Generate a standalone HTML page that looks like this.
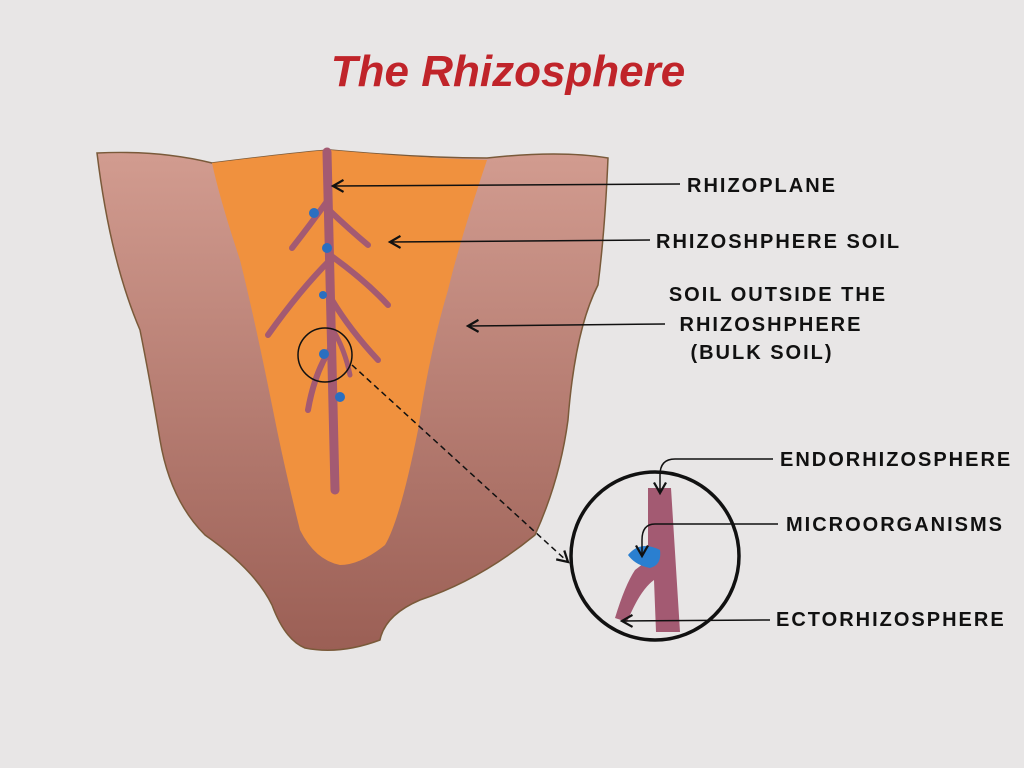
<!DOCTYPE html>
<html><head><style>
body{margin:0;background:#e8e6e6;}
svg{display:block}
.l{font-family:"Liberation Sans",sans-serif;font-weight:bold;font-size:20px;fill:#111;letter-spacing:2px}
</style></head><body>
<svg width="1024" height="768" viewBox="0 0 1024 768">
<defs>
<linearGradient id="g" x1="0" y1="0" x2="0" y2="1"><stop offset="0" stop-color="#d29c90"/><stop offset="1" stop-color="#9b5f55"/></linearGradient>
<marker id="a" markerWidth="10" markerHeight="10" refX="8" refY="5" orient="auto"><path d="M1,1 L8,5 L1,9" fill="none" stroke="#111" stroke-width="1.5"/></marker>
</defs>
<rect width="1024" height="768" fill="#e8e6e6"/>
<text x="508" y="86" text-anchor="middle" font-family="Liberation Sans,sans-serif" font-weight="bold" font-style="italic" font-size="44" fill="#c0242a">The Rhizosphere</text>
<path d="M97,153 Q160,150 212,163 Q300,152 330,150 Q420,158 487,158 Q560,150 608,158 Q605,230 598,285 Q575,330 568,420 Q560,480 535,535 Q480,580 420,600 Q385,615 380,640 Q340,655 305,648 Q285,640 272,605 Q255,570 205,535 Q170,500 160,440 Q150,380 140,330 Q110,260 97,153 Z" fill="url(#g)" stroke="#7a5a3a" stroke-width="1.5"/>
<path d="M212,163 Q300,152 330,150 Q420,158 487,160 Q460,240 448,290 Q430,350 418,430 Q400,520 385,545 Q360,565 340,565 Q315,560 300,530 Q285,470 275,420 Q255,320 240,260 Q220,200 212,163 Z" fill="#f0913e"/>
<g stroke="#a35a72" stroke-linecap="round" fill="none">
<path d="M327,152 Q330,300 335,490" stroke-width="9"/>
<path d="M328,200 Q310,225 292,248" stroke-width="6"/>
<path d="M329,210 Q350,230 368,245" stroke-width="6"/>
<path d="M330,260 Q300,290 268,335" stroke-width="6"/>
<path d="M330,255 Q365,280 388,305" stroke-width="6"/>
<path d="M332,300 Q350,330 378,360" stroke-width="6"/>
<path d="M333,345 Q315,370 308,410" stroke-width="6"/>
<path d="M333,330 Q345,350 350,375" stroke-width="5"/>
</g>
<g fill="#2a6fc0">
<circle cx="314" cy="213" r="5"/><circle cx="327" cy="248" r="5"/><circle cx="323" cy="295" r="4"/><circle cx="324" cy="354" r="5"/><circle cx="340" cy="397" r="5"/>
</g>
<circle cx="325" cy="355" r="27" fill="none" stroke="#111" stroke-width="1.5"/>
<line x1="352" y1="365" x2="568" y2="562" stroke="#111" stroke-width="1.5" stroke-dasharray="6,4" marker-end="url(#a)"/>
<circle cx="655" cy="556" r="84" fill="#e8e6e6" stroke="#111" stroke-width="3.5"/>
<path d="M648,488 L671,488 L680,632 L656,632 L654,580 Q640,590 627,622 L615,618 Q625,585 635,570 L648,560 Z" fill="#a35a72"/>
<path d="M628,555 Q640,540 660,550 Q662,565 650,568 Q635,565 628,555 Z" fill="#2a7fd0"/>
<g stroke="#111" stroke-width="1.5" fill="none" marker-end="url(#a)">
<line x1="680" y1="184" x2="333" y2="186"/>
<line x1="650" y1="240" x2="390" y2="242"/>
<line x1="665" y1="324" x2="468" y2="326"/>
<path d="M773,459 L675,459 Q660,459 660,475 L660,493"/>
<path d="M778,524 L655,524 Q642,524 642,540 L642,556"/>
<line x1="770" y1="620" x2="622" y2="621"/>
</g>
<text class="l" x="687" y="192">RHIZOPLANE</text>
<text class="l" x="656" y="248">RHIZOSHPHERE SOIL</text>
<text class="l" x="778" y="301" text-anchor="middle">SOIL OUTSIDE THE</text>
<text class="l" x="771" y="331" text-anchor="middle">RHIZOSHPHERE</text>
<text class="l" x="762" y="359" text-anchor="middle">(BULK SOIL)</text>
<text class="l" x="780" y="466">ENDORHIZOSPHERE</text>
<text class="l" x="786" y="531">MICROORGANISMS</text>
<text class="l" x="776" y="626">ECTORHIZOSPHERE</text>
</svg>
</body></html>
